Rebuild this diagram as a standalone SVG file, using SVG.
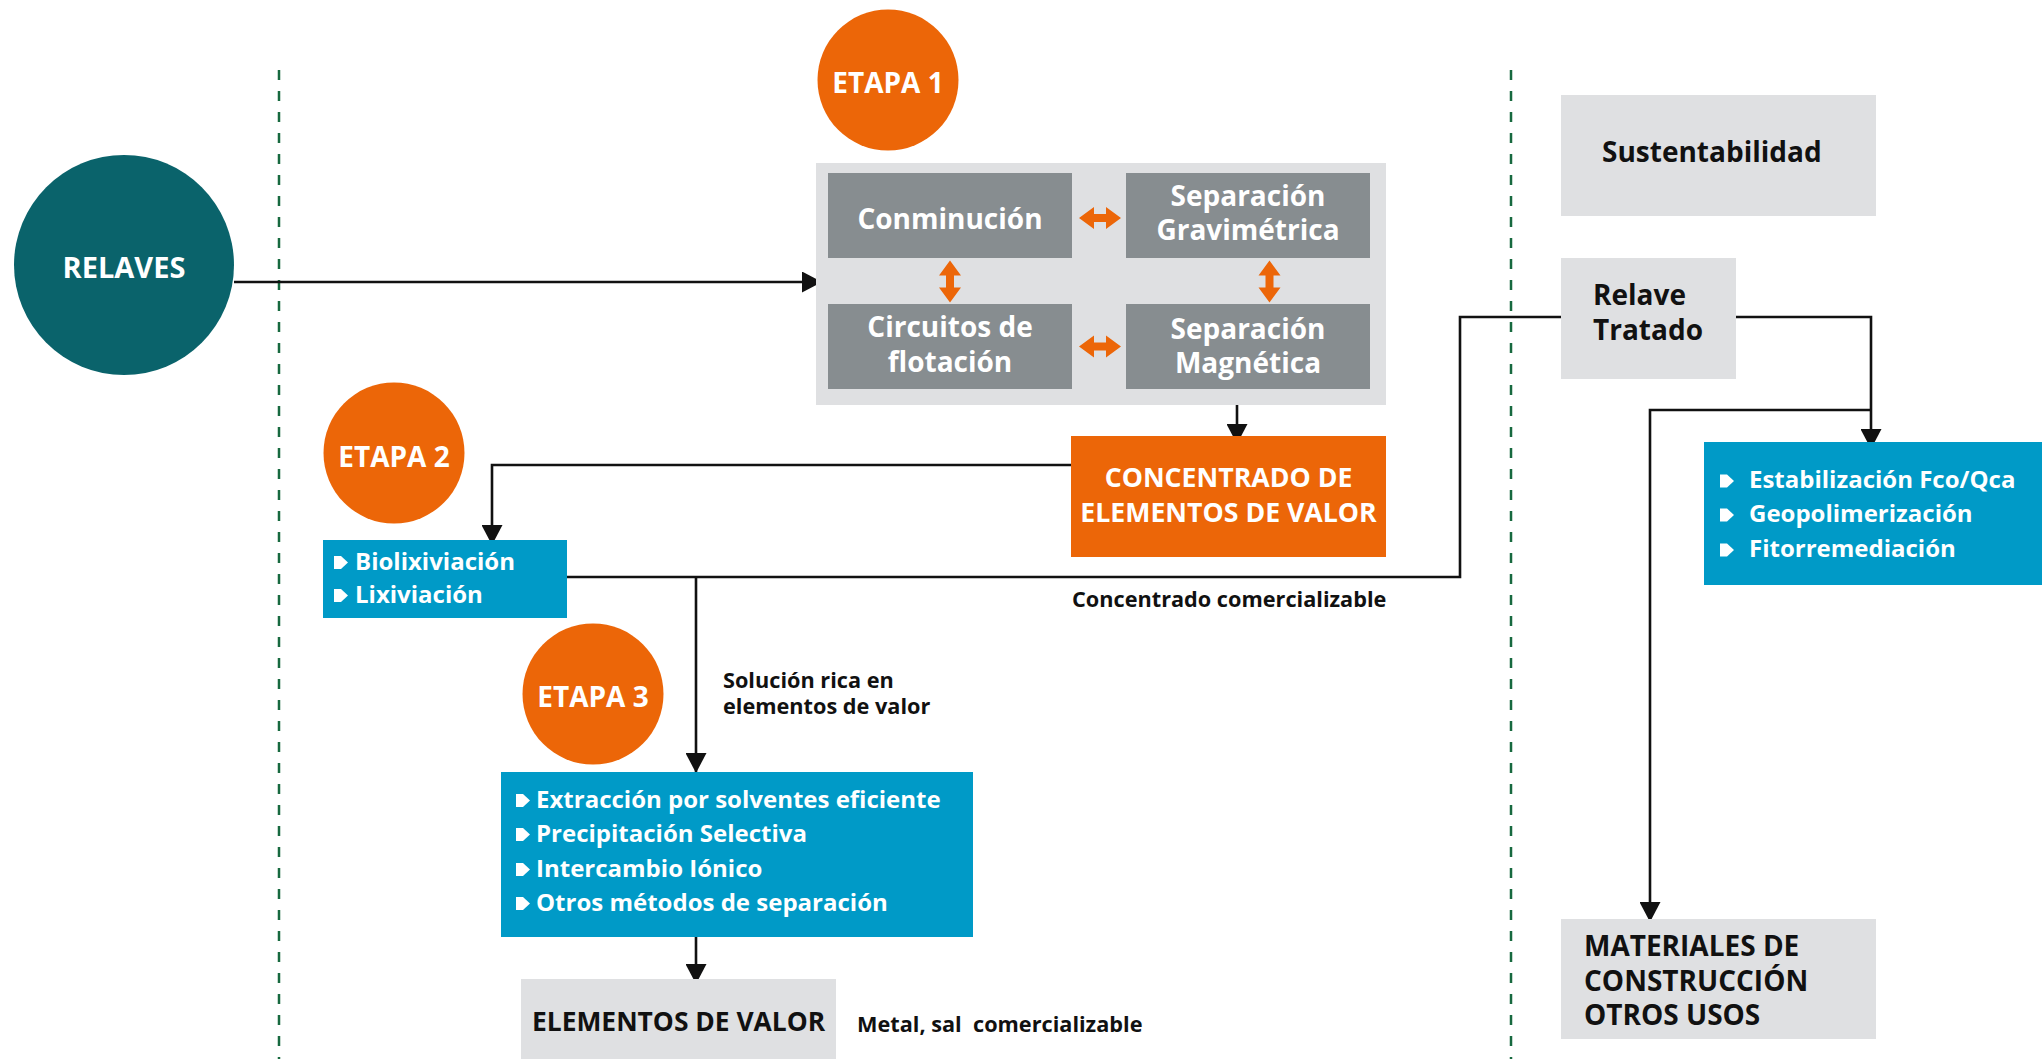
<svg xmlns="http://www.w3.org/2000/svg" xmlns:xlink="http://www.w3.org/1999/xlink" width="2042" height="1059" viewBox="0 0 2042 1059">
<style>
text{font-family:"Open Sans","Noto Sans","DejaVu Sans",sans-serif;font-weight:700}
.w{fill:#ffffff}
.k{fill:#111111}
.big{font-size:28px}
.mid{font-size:26.7px}
.item{font-size:24px}
.lbl{font-size:21.7px}
.c{text-anchor:middle}
.orange{fill:#EC6608}
.teal{fill:#0A636B}
.cyan{fill:#009AC7}
.gray{fill:#878D90}
.light{fill:#DFE0E2}
.divider{stroke:#17693F;stroke-width:2.5;stroke-dasharray:10 11;fill:none}
.conn{stroke:#111111;stroke-width:2.6;fill:none}
.arr{marker-end:url(#ah)}
</style>
<defs>
<marker id="ah" markerUnits="userSpaceOnUse" markerWidth="21" markerHeight="21" viewBox="0 0 20 21" refX="20" refY="10.5" orient="auto">
<path d="M0,0 L20,10.5 L0,21 Z" fill="#111111"/>
</marker>
<path id="dbl" d="M-21,0 L-6,-11 L-6,-4 L6,-4 L6,-11 L21,0 L6,11 L6,4 L-6,4 L-6,11 Z" fill="#EC6608"/>
<path id="bul" d="M0,-6.5 L7,-6.5 L14,0 L7,6.5 L0,6.5 Z" fill="#ffffff"/>
</defs>

<g id="dividers">
<line class="divider" x1="279" y1="70" x2="279" y2="1059"/>
<line class="divider" x1="1511" y1="70" x2="1511" y2="1059"/>
</g>

<g id="connectors">
<path class="conn arr" d="M234,282 H822"/>
<path class="conn arr" d="M1237,405 V444"/>
<path class="conn arr" d="M1071,465 H492 V545"/>
<path class="conn" d="M567,577 H1460 V317 H1561"/>
<path class="conn arr" d="M696,577 V773"/>
<path class="conn arr" d="M696,937 V984"/>
<path class="conn arr" d="M1736,317 H1871 V449"/>
<path class="conn arr" d="M1871,410 H1650 V922"/>
</g>

<g id="relaves">
<circle class="teal" cx="124" cy="265" r="110"/>
<text class="w c big" x="124" y="278" style="font-size:29px">RELAVES</text>
</g>

<g id="etapa1">
<circle class="orange" cx="888" cy="80" r="70.5"/>
<text class="w c big" x="888" y="93">ETAPA 1</text>
</g>

<g id="etapa1-box">
<rect class="light" x="816" y="163" width="570" height="242"/>
</g>

<g id="conminucion">
<rect class="gray" x="828" y="173" width="244" height="85"/>
<text class="w c big" x="950" y="229">Conminución</text>
</g>

<g id="sep-grav">
<rect class="gray" x="1126" y="173" width="244" height="85"/>
<text class="w c big" x="1248" y="206">Separación</text>
<text class="w c big" x="1248" y="240">Gravimétrica</text>
</g>

<g id="circuitos">
<rect class="gray" x="828" y="304" width="244" height="85"/>
<text class="w c big" x="950" y="337">Circuitos de</text>
<text class="w c big" x="950" y="372">flotación</text>
</g>

<g id="sep-mag">
<rect class="gray" x="1126" y="304" width="244" height="85"/>
<text class="w c big" x="1248" y="339">Separación</text>
<text class="w c big" x="1248" y="373">Magnética</text>
</g>

<g id="exchange-arrows">
<use xlink:href="#dbl" href="#dbl" transform="translate(1100,218)"/>
<use xlink:href="#dbl" href="#dbl" transform="translate(1100,346.5)"/>
<use xlink:href="#dbl" href="#dbl" transform="translate(950,281.5) rotate(90)"/>
<use xlink:href="#dbl" href="#dbl" transform="translate(1269.5,281.5) rotate(90)"/>
</g>

<g id="concentrado">
<rect class="orange" x="1071" y="436" width="315" height="121"/>
<text class="w c mid" x="1228.5" y="487">CONCENTRADO DE</text>
<text class="w c mid" x="1228.5" y="522">ELEMENTOS DE VALOR</text>
</g>

<g id="etapa2">
<circle class="orange" cx="394" cy="453" r="70.5"/>
<text class="w c big" x="394" y="467">ETAPA 2</text>
</g>

<g id="lixiviacion">
<rect class="cyan" x="323" y="540" width="244" height="78"/>
<use xlink:href="#bul" href="#bul" transform="translate(334,562.5)"/>
<text class="w item" x="355" y="570">Biolixiviación</text>
<use xlink:href="#bul" href="#bul" transform="translate(334,595.5)"/>
<text class="w item" x="355" y="603">Lixiviación</text>
</g>

<g id="label-concentrado">
<text class="k lbl" x="1072" y="607">Concentrado comercializable</text>
</g>

<g id="label-solucion">
<text class="k lbl" x="723" y="688">Solución rica en</text>
<text class="k lbl" x="723" y="714">elementos de valor</text>
</g>

<g id="etapa3">
<circle class="orange" cx="593" cy="694" r="70.5"/>
<text class="w c big" x="593" y="707">ETAPA 3</text>
</g>

<g id="separacion">
<rect class="cyan" x="501" y="772" width="472" height="165"/>
<use xlink:href="#bul" href="#bul" transform="translate(516,800.5)"/>
<text class="w item" x="536" y="808">Extracción por solventes eficiente</text>
<use xlink:href="#bul" href="#bul" transform="translate(516,834.5)"/>
<text class="w item" x="536" y="842">Precipitación Selectiva</text>
<use xlink:href="#bul" href="#bul" transform="translate(516,869.5)"/>
<text class="w item" x="536" y="877">Intercambio Iónico</text>
<use xlink:href="#bul" href="#bul" transform="translate(516,903.5)"/>
<text class="w item" x="536" y="911">Otros métodos de separación</text>
</g>

<g id="elementos">
<rect class="light" x="521" y="979" width="315" height="80"/>
<text class="k mid" x="532" y="1031" style="font-size:26.4px">ELEMENTOS DE VALOR</text>
</g>

<g id="label-metal">
<text class="k lbl" x="857" y="1032">Metal, sal&#160; comercializable</text>
</g>

<g id="sustentabilidad">
<rect class="light" x="1561" y="95" width="315" height="121"/>
<text class="k big" x="1602" y="162">Sustentabilidad</text>
</g>

<g id="relave-tratado">
<rect class="light" x="1561" y="258" width="175" height="121"/>
<text class="k big" x="1593" y="305">Relave</text>
<text class="k big" x="1593" y="340">Tratado</text>
</g>

<g id="tratamientos">
<rect class="cyan" x="1704" y="442" width="338" height="143"/>
<use xlink:href="#bul" href="#bul" transform="translate(1720,481)"/>
<text class="w item" x="1749" y="488">Estabilización Fco/Qca</text>
<use xlink:href="#bul" href="#bul" transform="translate(1720,515)"/>
<text class="w item" x="1749" y="522">Geopolimerización</text>
<use xlink:href="#bul" href="#bul" transform="translate(1720,550)"/>
<text class="w item" x="1749" y="557">Fitorremediación</text>
</g>

<g id="materiales">
<rect class="light" x="1561" y="919" width="315" height="120"/>
<text class="k big" x="1584" y="956">MATERIALES DE</text>
<text class="k big" x="1584" y="991">CONSTRUCCIÓN</text>
<text class="k big" x="1584" y="1025">OTROS USOS</text>
</g>
</svg>
